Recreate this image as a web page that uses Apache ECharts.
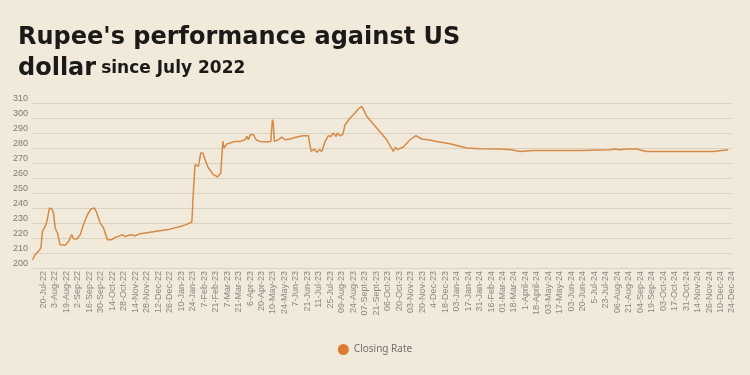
<!DOCTYPE html>
<html>
<head>
<meta charset="utf-8">
<style>
  html, body { margin: 0; padding: 0; background: #f1eadb; }
  #chart { width: 750px; height: 375px; }
</style>
<script src="https://cdn.jsdelivr.net/npm/echarts@6/dist/echarts.min.js"></script>
</head>
<body>
<div id="chart"></div>
<script>
// tick labels along the bottom, one per axis step
const dateLabels = [
  "20-Jul-22", "3-Aug-22", "19-Aug-22", "2-Sep-22", "16-Sep-22", "30-Sep-22",
  "14-Oct-22", "28-Oct-22", "14-Nov-22", "28-Nov-22", "12-Dec-22", "26-Dec-22",
  "10-Jan-23", "24-Jan-23", "7-Feb-23", "21-Feb-23", "7-Mar-23", "21-Mar-23",
  "6-Apr-23", "20-Apr-23", "10-May-23", "24-May-23", "7-Jun-23", "21-Jun-23",
  "11-Jul-23", "25-Jul-23", "09-Aug-23", "24-Aug-23", "07-Sept-23", "21-Sept-23",
  "06-Oct-23", "20-Oct-23", "03-Nov-23", "20-Nov-23", "4-Dec-23", "18-Dec-23",
  "03-Jan-24", "17-Jan-24", "31-Jan-24", "16-Feb-24", "01-Mar-24", "18-Mar-24",
  "1-April-24", "18-April-24", "03-May-24", "17-May-24", "03-Jun-24", "20-Jun-24",
  "5-Jul-24", "23-Jul-24", "06-Aug-24", "21-Aug-24", "04-Sep-24", "19-Sep-24",
  "03-Oct-24", "17-Oct-24", "31-Oct-24", "14-Nov-24", "26-Nov-24", "10-Dec-24",
  "24-Dec-24"
];

// position of each reading, measured in label steps (0 = first label)
const xPos = [
  -0.96, -0.72, -0.44, -0.23, -0.09, 0.15, 0.30, 0.52, 0.73, 0.87,
  1.02, 1.22, 1.45, 1.60, 1.89, 2.18, 2.47, 2.61, 2.91, 3.20,
  3.48, 3.83, 4.13, 4.44, 4.65, 4.94, 5.23, 5.57, 5.96, 6.25,
  6.53, 6.86, 7.12, 7.55, 7.99, 8.42, 9.29, 10.16, 11.03, 11.91,
  12.43, 12.93, 13.07, 13.21, 13.36, 13.50, 13.71, 13.89, 14.09, 14.37,
  14.81, 15.16, 15.33, 15.45, 15.63, 15.74, 15.98, 16.26, 16.70, 17.13,
  17.57, 17.72, 17.86, 18.01, 18.15, 18.29, 18.53, 18.88, 19.46, 19.81,
  19.95, 20.03, 20.12, 20.47, 20.76, 21.05, 21.49, 22.07, 22.65, 23.08,
  23.23, 23.32, 23.47, 23.61, 23.82, 24.04, 24.25, 24.54, 24.83, 25.03,
  25.26, 25.50, 25.61, 25.85, 26.08, 26.28, 26.72, 27.15, 27.44, 27.74,
  27.87, 28.17, 29.04, 29.91, 30.49, 30.68, 30.85, 31.36, 31.94, 32.46,
  32.96, 33.54, 34.27, 35.43, 36.88, 38.04, 39.78, 40.80, 41.52, 42.68,
  46.75, 49.36, 49.80, 50.23, 50.90, 51.69, 52.56, 55.46, 58.36, 59.67
];

// closing rate readings
const closingRate = [
  205.5, 208.9, 211.1, 213.3, 224.4, 227.7, 231.1, 240.0, 239.3, 236.7,
  226.7, 223.3, 215.5, 214.4, 215.1, 217.7, 222.2, 219.5, 219.3, 222.2,
  228.9, 235.5, 239.3, 240.0, 236.7, 230.0, 226.7, 218.9, 218.9, 220.4,
  221.1, 222.2, 220.9, 222.2, 221.5, 222.9, 223.9, 224.9, 225.9, 227.7,
  228.9, 230.7, 252.2, 268.9, 270.0, 267.7, 276.7, 276.7, 272.2, 266.7,
  262.2, 260.7, 260.0, 263.3, 284.4, 280.0, 282.7, 283.3, 284.4, 284.4,
  285.5, 287.7, 285.5, 288.9, 287.7, 288.9, 285.5, 284.4, 284.0, 284.4,
  298.9, 296.7, 284.4, 285.5, 287.3, 285.5, 286.0, 287.3, 288.2, 288.2,
  287.7, 277.7, 276.7, 279.3, 277.1, 278.9, 277.7, 284.4, 288.2, 287.7,
  290.0, 287.7, 290.0, 288.2, 288.9, 295.5, 300.0, 303.3, 306.0, 307.7,
  306.0, 301.1, 293.3, 285.5, 277.7, 280.5, 278.9, 280.7, 285.5, 288.2,
  286.0, 285.5, 284.4, 282.9, 280.0, 279.5, 279.3, 278.9, 277.7, 278.4,
  278.4, 278.9, 279.4, 278.9, 279.3, 279.3, 277.7, 277.7, 277.7, 278.9
];

const chart = echarts.init(document.getElementById("chart"), undefined, {
  renderer: "canvas",
});

chart.setOption({
  backgroundColor: "#f1eadb",
  animation: false,
  title: {
    left: 13,
    top: 17,
    text: "{a|Rupee's performance against US}\n{a|dollar} {b|since July 2022}",
    textStyle: {
      rich: {
        a: {
          fontFamily: "DejaVu Sans",
          fontWeight: "bold",
          fontSize: 24,
          lineHeight: 31,
          color: "#1b1a18",
        },
        b: {
          fontFamily: "DejaVu Sans",
          fontWeight: "bold",
          fontSize: 17,
          lineHeight: 31,
          color: "#1b1a18",
        },
      },
    },
  },
  legend: {
    left: "center",
    top: 339,
    icon: "circle",
    itemWidth: 11,
    itemHeight: 11,
    itemGap: 10,
    textStyle: {
      fontFamily: "Noto Sans",
      fontSize: 10,
      color: "#707070",
    },
    data: ["Closing Rate"],
  },
  grid: {
    left: 32,
    right: 18,
    top: 103,
    bottom: 107,
  },
  xAxis: {
    type: "value",
    min: -1,
    max: 60,
    interval: 1,
    axisLine: { show: false },
    axisTick: { show: false },
    splitLine: { show: false },
    axisLabel: {
      rotate: 90,
      margin: 3,
      fontSize: 9,
      fontFamily: "Liberation Sans",
      color: "#8a8783",
      showMinLabel: true,
      showMaxLabel: true,
      formatter: (v) => dateLabels[Math.round(v)] || "",
    },
  },
  yAxis: {
    type: "value",
    min: 200,
    max: 310,
    interval: 10,
    axisLine: { show: false },
    axisTick: { show: false },
    splitLine: {
      lineStyle: { color: "#dbd3c1", width: 1.2 },
    },
    axisLabel: {
      margin: 4,
      fontSize: 9,
      fontFamily: "Liberation Sans",
      color: "#7d7a75",
      verticalAlign: "bottom",
    },
  },
  series: [
    {
      name: "Closing Rate",
      type: "line",
      data: xPos.map((x, i) => [x, closingRate[i]]),
      showSymbol: false,
      symbol: "circle",
      color: "#dc7a33",
      lineStyle: { width: 1.5, color: "#d58a48" },
    },
  ],
});
</script>
</body>
</html>
